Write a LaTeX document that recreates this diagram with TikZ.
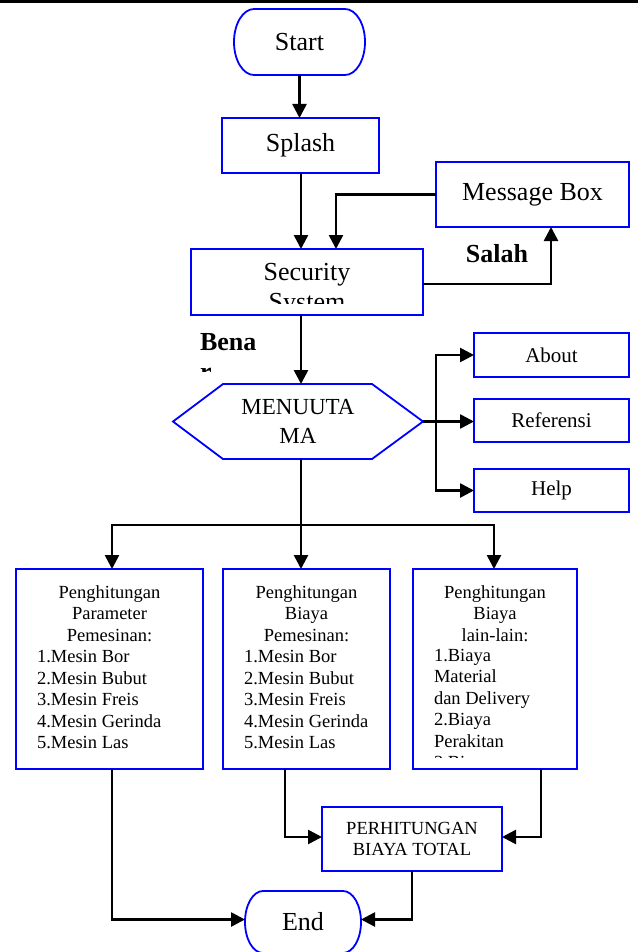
\documentclass[tikz,border=0pt]{standalone}
\usepackage{fontspec}
\setmainfont{Liberation Serif}
\usetikzlibrary{arrows.meta,calc}
\newcommand\termpath[3]{% node name, x radius, y radius
  \draw[blue,line width=1.8pt] ([xshift=-#2]#1.north east)
    arc[start angle=90,end angle=-90,x radius=#2,y radius=#3]
    -- ([xshift=#2]#1.south west)
    arc[start angle=270,end angle=90,x radius=#2,y radius=#3] -- cycle;}
\begin{document}
\begin{tikzpicture}[x=1pt,y=-1pt,
  box/.style={draw=blue,line width=1.8pt,rectangle,inner sep=0pt,outer sep=0pt,align=center},
  plain/.style={inner sep=0pt,outer sep=0pt,align=center},
  conn/.style={draw=black,line width=2.6pt,-{Triangle[length=14pt,width=14pt]}},
  wire/.style={draw=black,line width=2.6pt},
  big/.style={font=\fontsize{26}{30}\selectfont},
  bigb/.style={font=\fontsize{26}{30}\selectfont\bfseries},
  mid/.style={font=\fontsize{23}{29}\selectfont},
  side/.style={font=\fontsize{21}{25}\selectfont},
  small/.style={font=\fontsize{18.5}{21.5}\selectfont},
]
\useasboundingbox (0,0) rectangle (638,952);
\fill[white] (0,0) rectangle (638,952);
\draw[black,line width=3pt] (0,1.5) -- (638,1.5);

% terminals
\node[plain,big,minimum width=131pt,minimum height=66pt] (start) at (299.5,42) {Start};
\termpath{start}{20pt}{33pt}
\node[plain,big,minimum width=116pt,minimum height=62pt] (end) at (303,922) {End};
\termpath{end}{18pt}{31pt}

% boxes
\node[box,big,minimum width=157pt,minimum height=55pt] (splash) at (300.5,145.5) {Splash};
\node[box,big,minimum width=193pt,minimum height=65pt] (msg) at (532.5,194.5) {Message Box};
\node[box,minimum width=232pt,minimum height=66pt] (security) at (307,282) {};
\begin{scope}
  \clip (192,250) rectangle (422,303);
  \node[plain,big] (sectext) at (307,290) {Security\\System};
\end{scope}

\node[bigb,plain] (salah) at (497,254) {Salah};
\begin{scope}
  \clip (190,320) rectangle (280,371);
  \node[bigb,plain,align=left,anchor=west] (benar) at (200,357) {Bena\\r};
\end{scope}

% hexagon
\node[plain,mid,minimum width=250pt,minimum height=75pt] (menu) at (298,421.5) {MENUUTA\\MA};
\draw[blue,line width=1.8pt] (menu.west) -- ([xshift=50pt]menu.north west)
  -- ([xshift=-51pt]menu.north east) -- (menu.east)
  -- ([xshift=-51pt]menu.south east) -- ([xshift=50pt]menu.south west) -- cycle;

\node[box,side,minimum width=155pt,minimum height=44pt] (about) at (551.5,355) {About};
\node[box,side,minimum width=155pt,minimum height=43pt] (referensi) at (551.5,420.5) {Referensi};
\node[box,side,minimum width=155pt,minimum height=43pt] (help) at (551.5,490.5) {Help};

% lower boxes
\node[box,minimum width=187pt,minimum height=200pt] (box1) at (109.5,669) {};
\node[plain,small] (b1head) at (109.5,613.5) {Penghitungan\\Parameter\\Pemesinan:};
\node[plain,small,align=left,anchor=west] (b1list) at (37,699.5)
  {1.Mesin Bor\\2.Mesin Bubut\\3.Mesin Freis\\4.Mesin Gerinda\\5.Mesin Las};

\node[box,minimum width=167pt,minimum height=200pt] (box2) at (306.5,669) {};
\node[plain,small] (b2head) at (306.5,613.5) {Penghitungan\\Biaya\\Pemesinan:};
\node[plain,small,align=left,anchor=west] (b2list) at (244,699.5)
  {1.Mesin Bor\\2.Mesin Bubut\\3.Mesin Freis\\4.Mesin Gerinda\\5.Mesin Las};

\node[box,minimum width=164pt,minimum height=200pt] (box3) at (495,669) {};
\node[plain,small] (b3head) at (495,613.5) {Penghitungan\\Biaya\\lain-lain:};
\begin{scope}
  \clip (414,640) rectangle (576,757.5);
  \node[plain,small,align=left,anchor=west] (b3list) at (434,711)
    {1.Biaya\\Material\\dan Delivery\\2.Biaya\\Perakitan\\3.Biaya};
\end{scope}

\node[box,small,minimum width=180pt,minimum height=64pt] (perh) at (412,839) {PERHITUNGAN\\BIAYA TOTAL};

% coordinates
\coordinate (spx) at (301,0);
\coordinate (split) at (301,525);
\coordinate (br) at (436,0);

% connectors
\draw[conn] (start.south) -- (start.south |- splash.north);
\draw[conn] (splash.south -| spx) -- (security.north -| spx);
\draw[conn] (msg.west) -| ([xshift=29pt]security.north);
\draw[conn] ([yshift=-2pt]security.east) -| ([xshift=18.5pt]msg.south);
\draw[conn] (security.south -| spx) -- (menu.north -| spx);
\draw[conn] (menu.east) -- (menu.east -| referensi.west);
\draw[conn] (menu.east -| br) |- (about.west);
\draw[conn] (menu.east -| br) |- (help.west);
\draw[wire] (menu.south -| spx) -- (split);
\draw[conn] (split) -| ([xshift=2.5pt]box1.north);
\draw[conn] (split) -- (box2.north -| split);
\draw[conn] (split) -| ([xshift=-1pt]box3.north);
\draw[conn] ([xshift=2.5pt]box1.south) |- ([yshift=2.5pt]end.west);
\draw[conn] ([xshift=-21.5pt]box2.south) |- ([yshift=2pt]perh.west);
\draw[conn] ([xshift=46pt]box3.south) |- ([yshift=2pt]perh.east);
\draw[conn] (perh.south) |- ([yshift=2.5pt]end.east);
\end{tikzpicture}
\end{document}
